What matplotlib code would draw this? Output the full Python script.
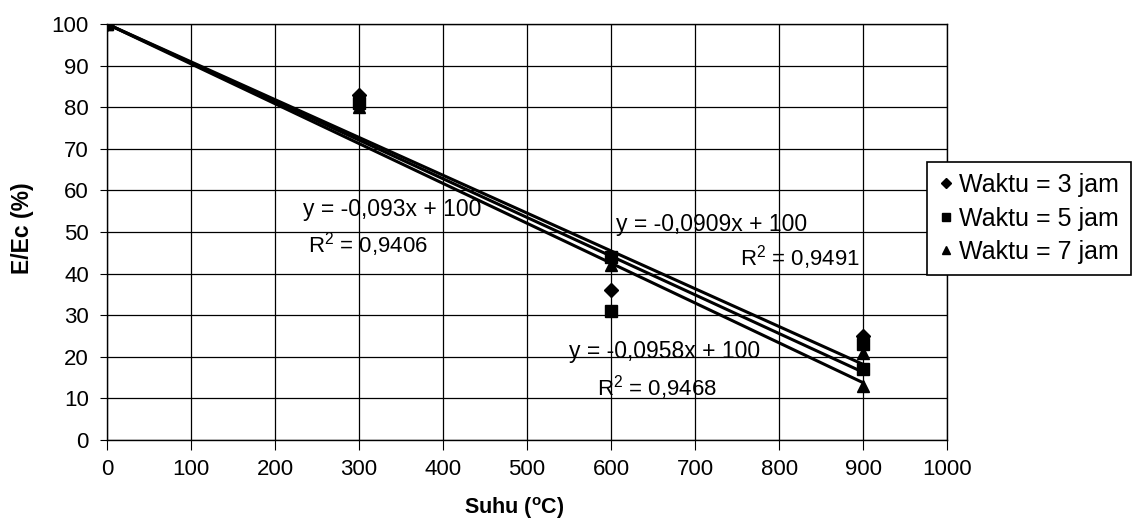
import matplotlib
matplotlib.use("Agg")
import matplotlib.pyplot as plt
import numpy as np

plt.rcParams["font.family"] = ["Liberation Sans", "DejaVu Sans"]
plt.rcParams["mathtext.fontset"] = "custom"
plt.rcParams["mathtext.rm"] = "Liberation Sans"
plt.rcParams["mathtext.bf"] = "Liberation Sans:bold"

# data
suhu_3 = [0, 300, 600, 900]
e_3 = [100, 83, 36, 25]
suhu_5 = [0, 300, 600, 600, 900, 900]
e_5 = [100, 81, 44, 31, 23, 17]
suhu_7 = [0, 300, 600, 900, 900]
e_7 = [100, 80, 42, 21, 13]

series_labels = ["Waktu = 3 jam", "Waktu = 5 jam", "Waktu = 7 jam"]
slopes = [-0.093, -0.0958, -0.0909]
intercept = 100
eq_texts = ["y = -0,093x + 100", "y = -0,0958x + 100", "y = -0,0909x + 100"]
r2_texts = ["R$^2$ = 0,9406", "R$^2$ = 0,9468", "R$^2$ = 0,9491"]
eq_pos = [(340, 55.3), (664, 21.2), (720, 51.9)]
r2_pos = [(311, 46.9), (655, 12.5), (825, 43.75)]

x_ticks = np.arange(0, 1001, 100)
y_ticks = np.arange(0, 101, 10)

fig = plt.figure(figsize=(11.43, 5.32), dpi=100)
ax = fig.add_axes([0.0936, 0.1729, 0.735, 0.782])

ax.grid(True, color="black", linewidth=0.9)
ax.set_axisbelow(True)

# trendlines
x_line = np.array([0, 900])
for b in slopes:
    ax.plot(x_line, intercept + b * x_line, color="black", linewidth=2.2, zorder=2)

h1, = ax.plot(suhu_3, e_3, "D", color="black", markersize=7.5, linestyle="none", zorder=3)
h2, = ax.plot(suhu_5, e_5, "s", color="black", markersize=8.5, linestyle="none", zorder=3)
h3, = ax.plot(suhu_7, e_7, "^", color="black", markersize=9, linestyle="none", zorder=3)

for txt, (x, y) in zip(eq_texts, eq_pos):
    ax.text(x, y, txt, ha="center", va="center", fontsize=16.5)
for txt, (x, y) in zip(r2_texts, r2_pos):
    ax.text(x, y, txt, ha="center", va="center", fontsize=16)

ax.set_xlim(0, 1000)
ax.set_ylim(0, 100)
ax.set_xticks(x_ticks)
ax.set_yticks(y_ticks)
ax.tick_params(axis="x", labelsize=16, length=7, pad=7, direction="out")
ax.tick_params(axis="y", labelsize=16, length=5, pad=8, direction="out")
for s in ax.spines.values():
    s.set_color("black")
    s.set_linewidth(1.0)

ax.set_xlabel(r"Suhu ($\mathbf{^o}$C)", fontsize=15.5, fontweight="bold", va="center")
ax.xaxis.set_label_coords(0.485, -0.163)
ax.set_ylabel("E/Ec (%)", fontsize=16.5, fontweight="bold", va="center")
ax.yaxis.set_label_coords(-0.101, 0.51)

leg = fig.legend([h1, h2, h3], series_labels, loc="upper left",
                 bbox_to_anchor=(0.811, 0.6955), fontsize=18, frameon=True,
                 fancybox=False, edgecolor="black", framealpha=1,
                 handlelength=0.6, handletextpad=0.25, labelspacing=0.38,
                 borderpad=0.45, borderaxespad=0, markerscale=0.65)
leg.get_frame().set_linewidth(1.2)

fig.savefig("out.png", dpi=100)
